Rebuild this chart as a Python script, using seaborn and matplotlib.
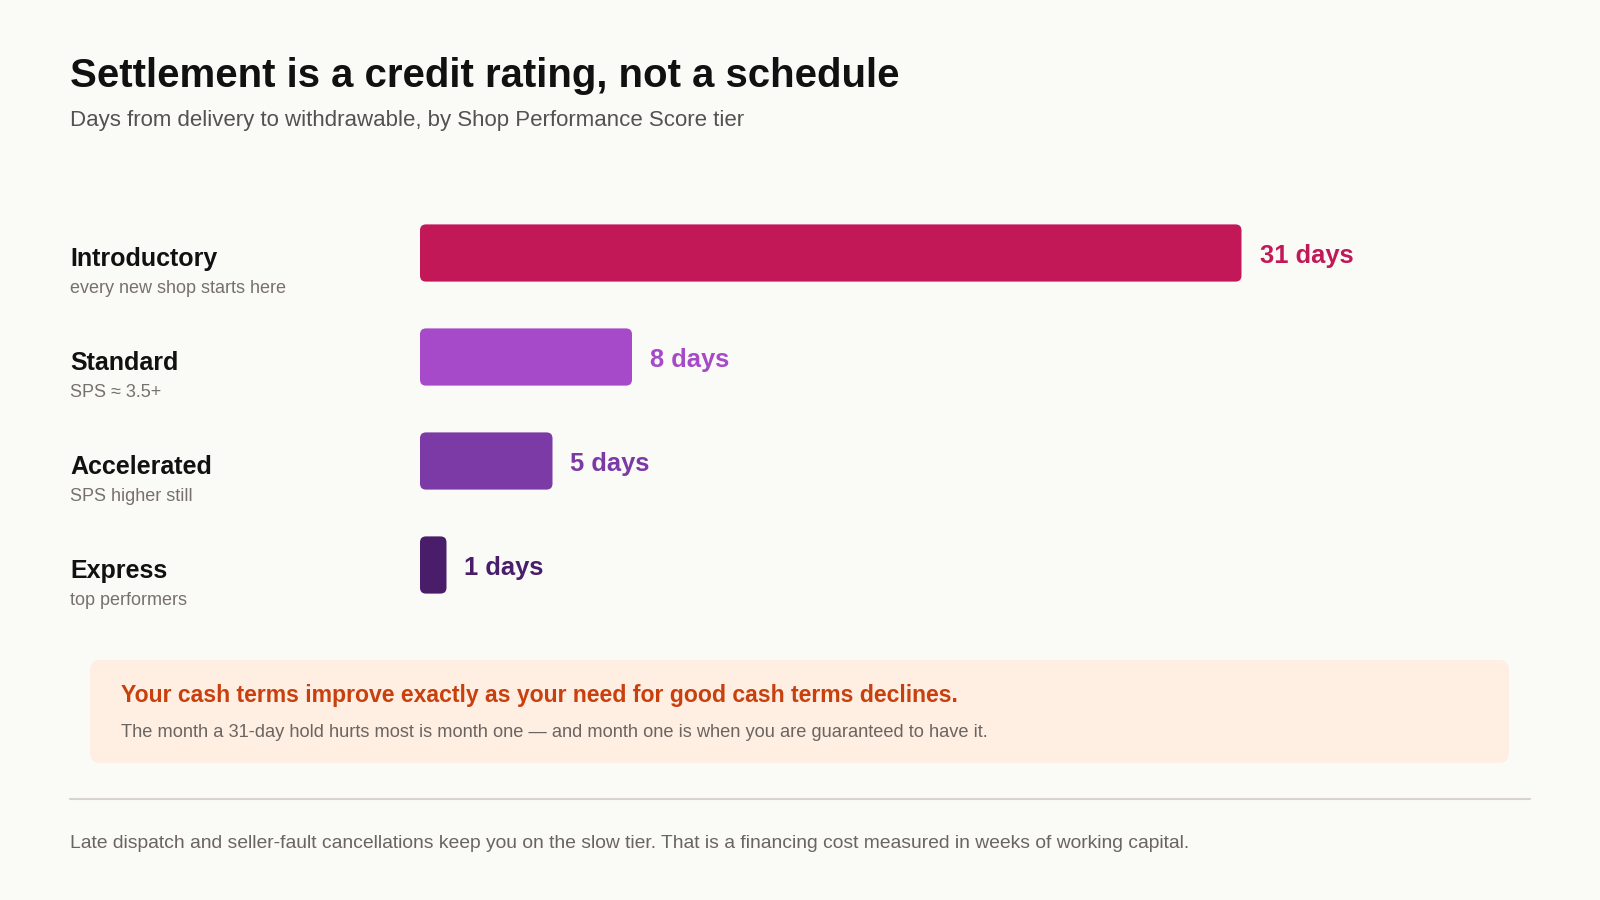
import matplotlib
matplotlib.use('Agg')
import matplotlib.pyplot as plt
from matplotlib.patches import FancyBboxPatch
import matplotlib.transforms as mtransforms
import pandas as pd
import seaborn as sns

# Данные
tiers = ['Introductory', 'Standard', 'Accelerated', 'Express']
notes = ['every new shop starts here', 'SPS \u2248 3.5+', 'SPS higher still', 'top performers']
days = [31, 8, 5, 1]
colors = ['#C21858', '#A64AC9', '#7B3AA6', '#4A1D6B']

title = 'Settlement is a credit rating, not a schedule'
subtitle = 'Days from delivery to withdrawable, by Shop Performance Score tier'
callout_head = 'Your cash terms improve exactly as your need for good cash terms declines.'
callout_body = ('The month a 31-day hold hurts most is month one \u2014 '
                'and month one is when you are guaranteed to have it.')
footer = ('Late dispatch and seller-fault cancellations keep you on the slow tier. '
          'That is a financing cost measured in weeks of working capital.')

data = pd.DataFrame({'tier': tiers, 'days': days})

# Настройки
sns.set_theme(style='white')
plt.rcParams['font.family'] = ['Liberation Sans', 'DejaVu Sans']
bg = '#FAFAF7'

fig = plt.figure(figsize=(16, 9), dpi=100, facecolor=bg)

# Слой для текста в пикселях
page = fig.add_axes([0, 0, 1, 1], zorder=0)
page.set_xlim(0, 1600)
page.set_ylim(900, 0)
page.axis('off')
page.patch.set_alpha(0)

# Столбцы
ax = fig.add_axes([420 / 1600, 1 - 617 / 900, 1120 / 1600, 416 / 900], zorder=1)
ax.patch.set_alpha(0)
sns.barplot(data=data, x='days', y='tier', hue='tier', palette=colors,
            orient='h', width=0.55, saturation=1, legend=False, ax=ax)
px_per_day = 26.5
ax.set_xlim(0, 1120 / px_per_day)
ax.set_ylim(3.5, -0.5)
ax.axis('off')

# Скругленные углы
radius = 6 / px_per_day
aspect = (1 / 104) / (1 / px_per_day)
for p in list(ax.patches):
    x, y, w, h = p.get_x(), p.get_y(), p.get_width(), p.get_height()
    fc = p.get_facecolor()
    p.remove()
    ax.add_patch(FancyBboxPatch((x, y), w, h,
                                boxstyle=f'round,pad=0,rounding_size={radius}',
                                mutation_aspect=aspect, fc=fc, ec='none'))

# Подписи значений и категорий
row_trans = mtransforms.blended_transform_factory(fig.transFigure, ax.transData)
for i, (tier, note, d, c) in enumerate(zip(tiers, notes, days, colors)):
    ax.annotate(f'{d} days', xy=(d, i), xytext=(18 * 0.72, -10 * 0.72),
                textcoords='offset points', va='baseline', ha='left',
                fontsize=18.4, fontweight='bold', color=c)
    ax.annotate(tier, xy=(70 / 1600, i), xycoords=row_trans,
                xytext=(0, -13 * 0.72), textcoords='offset points',
                va='baseline', ha='left', fontsize=18, fontweight='bold',
                color='#111111', annotation_clip=False)
    ax.annotate(note, xy=(70 / 1600, i), xycoords=row_trans,
                xytext=(0, -40 * 0.72), textcoords='offset points',
                va='baseline', ha='left', fontsize=13, color='#77716D',
                annotation_clip=False)

# Заголовки
page.text(70, 87, title, fontsize=28.9, fontweight='bold', color='#111111', va='baseline')
page.text(70, 126, subtitle, fontsize=16, color='#555150', va='baseline')

# Вывод
page.add_patch(FancyBboxPatch((90, 660), 1419, 103,
                              boxstyle='round,pad=0,rounding_size=10',
                              fc='#FFEEE2', ec='none'))
page.text(121, 702, callout_head, fontsize=16.6, fontweight='bold',
          color='#C8400E', va='baseline')
page.text(121, 737, callout_body, fontsize=13.15, color='#6B6561', va='baseline')

# Разделитель и сноска
page.plot([70, 1530], [799, 799], color='#D8D3CF', lw=1.5)
page.text(70, 848, footer, fontsize=13.85, color='#6B6561', va='baseline')

plt.savefig('out.png', dpi=100, facecolor=bg)
